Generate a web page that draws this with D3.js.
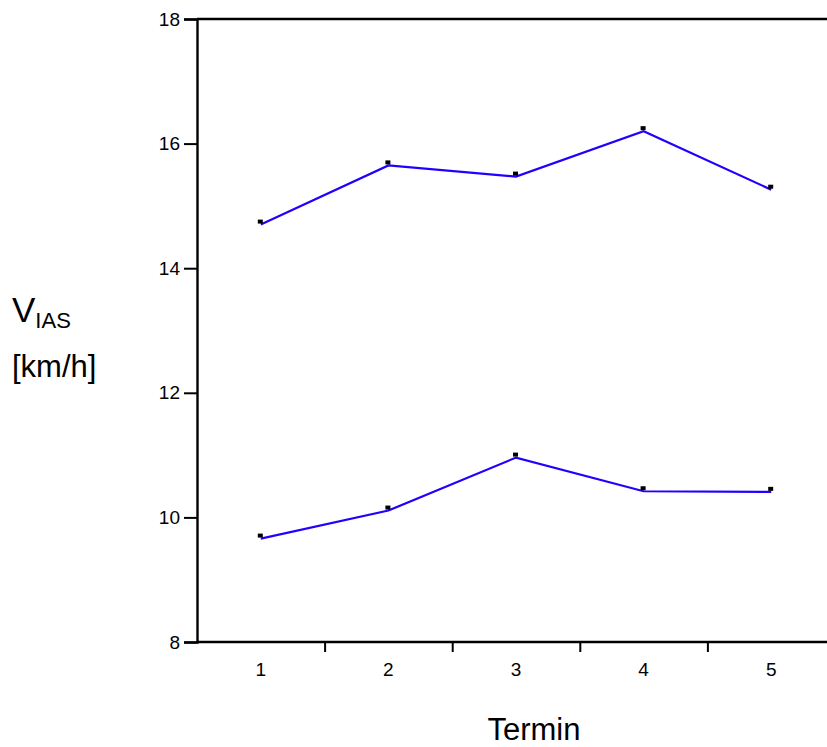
<!DOCTYPE html>
<html>
<head>
<meta charset="utf-8">
<script src="https://cdn.jsdelivr.net/npm/d3@7"></script>
<style>
  html, body { margin: 0; padding: 0; background: #fff; }
  svg { display: block; font-family: Arial, "Liberation Sans", sans-serif; }
</style>
</head>
<body>
<svg id="chart" width="827" height="747"></svg>
<script>
// Measurement days (Termin) and mean indicated airspeed per group
const termine = [1, 2, 3, 4, 5];
const seriesHigh = [14.70, 15.65, 15.47, 16.20, 15.26];
const seriesLow = [9.66, 10.11, 10.96, 10.42, 10.41];
const yTicks = [8, 10, 12, 14, 16, 18];
const xTickLabels = ["1", "2", "3", "4", "5"];
const xDividers = [1.5, 2.5, 3.5, 4.5];

const svg = d3.select("#chart");
const plotLeft = 197, plotTop = 19, plotBottom = 642;

const x = d3.scaleLinear().domain([0.5, 5.5]).range([plotLeft, plotLeft + 5 * 127.6]);
const y = d3.scaleLinear().domain([8, 18]).range([plotBottom, plotTop]);

// Y axis: ticks point left, label to the left of each tick
const yAxis = d3.axisLeft(y).tickValues(yTicks).tickSize(13).tickPadding(4).tickFormat(d3.format("d"));
const gy = svg.append("g").attr("transform", `translate(${plotLeft},0)`).call(yAxis);
gy.select(".domain").attr("stroke", "#000").attr("stroke-width", 2.4);
gy.selectAll(".tick line").attr("stroke", "#000").attr("stroke-width", 2);
gy.selectAll(".tick text").attr("font-size", 19).attr("fill", "#000")
  .attr("font-family", "Arial, 'Liberation Sans', sans-serif");

// X axis: baseline with short downward dividers between days
const xAxis = d3.axisBottom(x).tickValues(xDividers).tickSize(10).tickFormat("");
const gx = svg.append("g").attr("transform", `translate(0,${plotBottom})`).call(xAxis);
gx.select(".domain").attr("d", `M${plotLeft},0H827`).attr("stroke", "#000").attr("stroke-width", 2.4);
gx.selectAll(".tick line").attr("stroke", "#000").attr("stroke-width", 2);

// Day labels centred on each day
svg.append("g").selectAll("text").data(termine).join("text")
  .attr("x", d => x(d))
  .attr("y", 676)
  .attr("text-anchor", "middle")
  .attr("font-size", 19)
  .text((d, i) => xTickLabels[i]);

// Top frame line
svg.append("line")
  .attr("x1", plotLeft).attr("x2", 827)
  .attr("y1", y(18)).attr("y2", y(18))
  .attr("stroke", "#000").attr("stroke-width", 2.4);

// Series lines
const line = d3.line().x((d, i) => x(termine[i])).y(d => y(d));
[seriesHigh, seriesLow].forEach(s => {
  svg.append("path")
    .attr("d", line(s))
    .attr("fill", "none")
    .attr("stroke", "#2200ff")
    .attr("stroke-width", 2.2);
});

// Small mean markers above each vertex
[seriesHigh, seriesLow].forEach(s => {
  svg.append("g").selectAll("rect").data(s).join("rect")
    .attr("x", (d, i) => x(termine[i]) - 3)
    .attr("y", d => y(d) - 5)
    .attr("width", 5)
    .attr("height", 4)
    .attr("fill", "#000");
});

// Axis titles
const yt = svg.append("text").attr("x", 12).attr("y", 322).attr("font-size", 35);
yt.append("tspan").text("V");
yt.append("tspan").attr("font-size", 22).attr("dy", 6).text("IAS");

svg.append("text").attr("x", 12).attr("y", 377).attr("font-size", 31).text("[km/h]");

svg.append("text").attr("x", 534).attr("y", 740).attr("text-anchor", "middle")
  .attr("font-size", 31).text("Termin");
</script>
</body>
</html>
